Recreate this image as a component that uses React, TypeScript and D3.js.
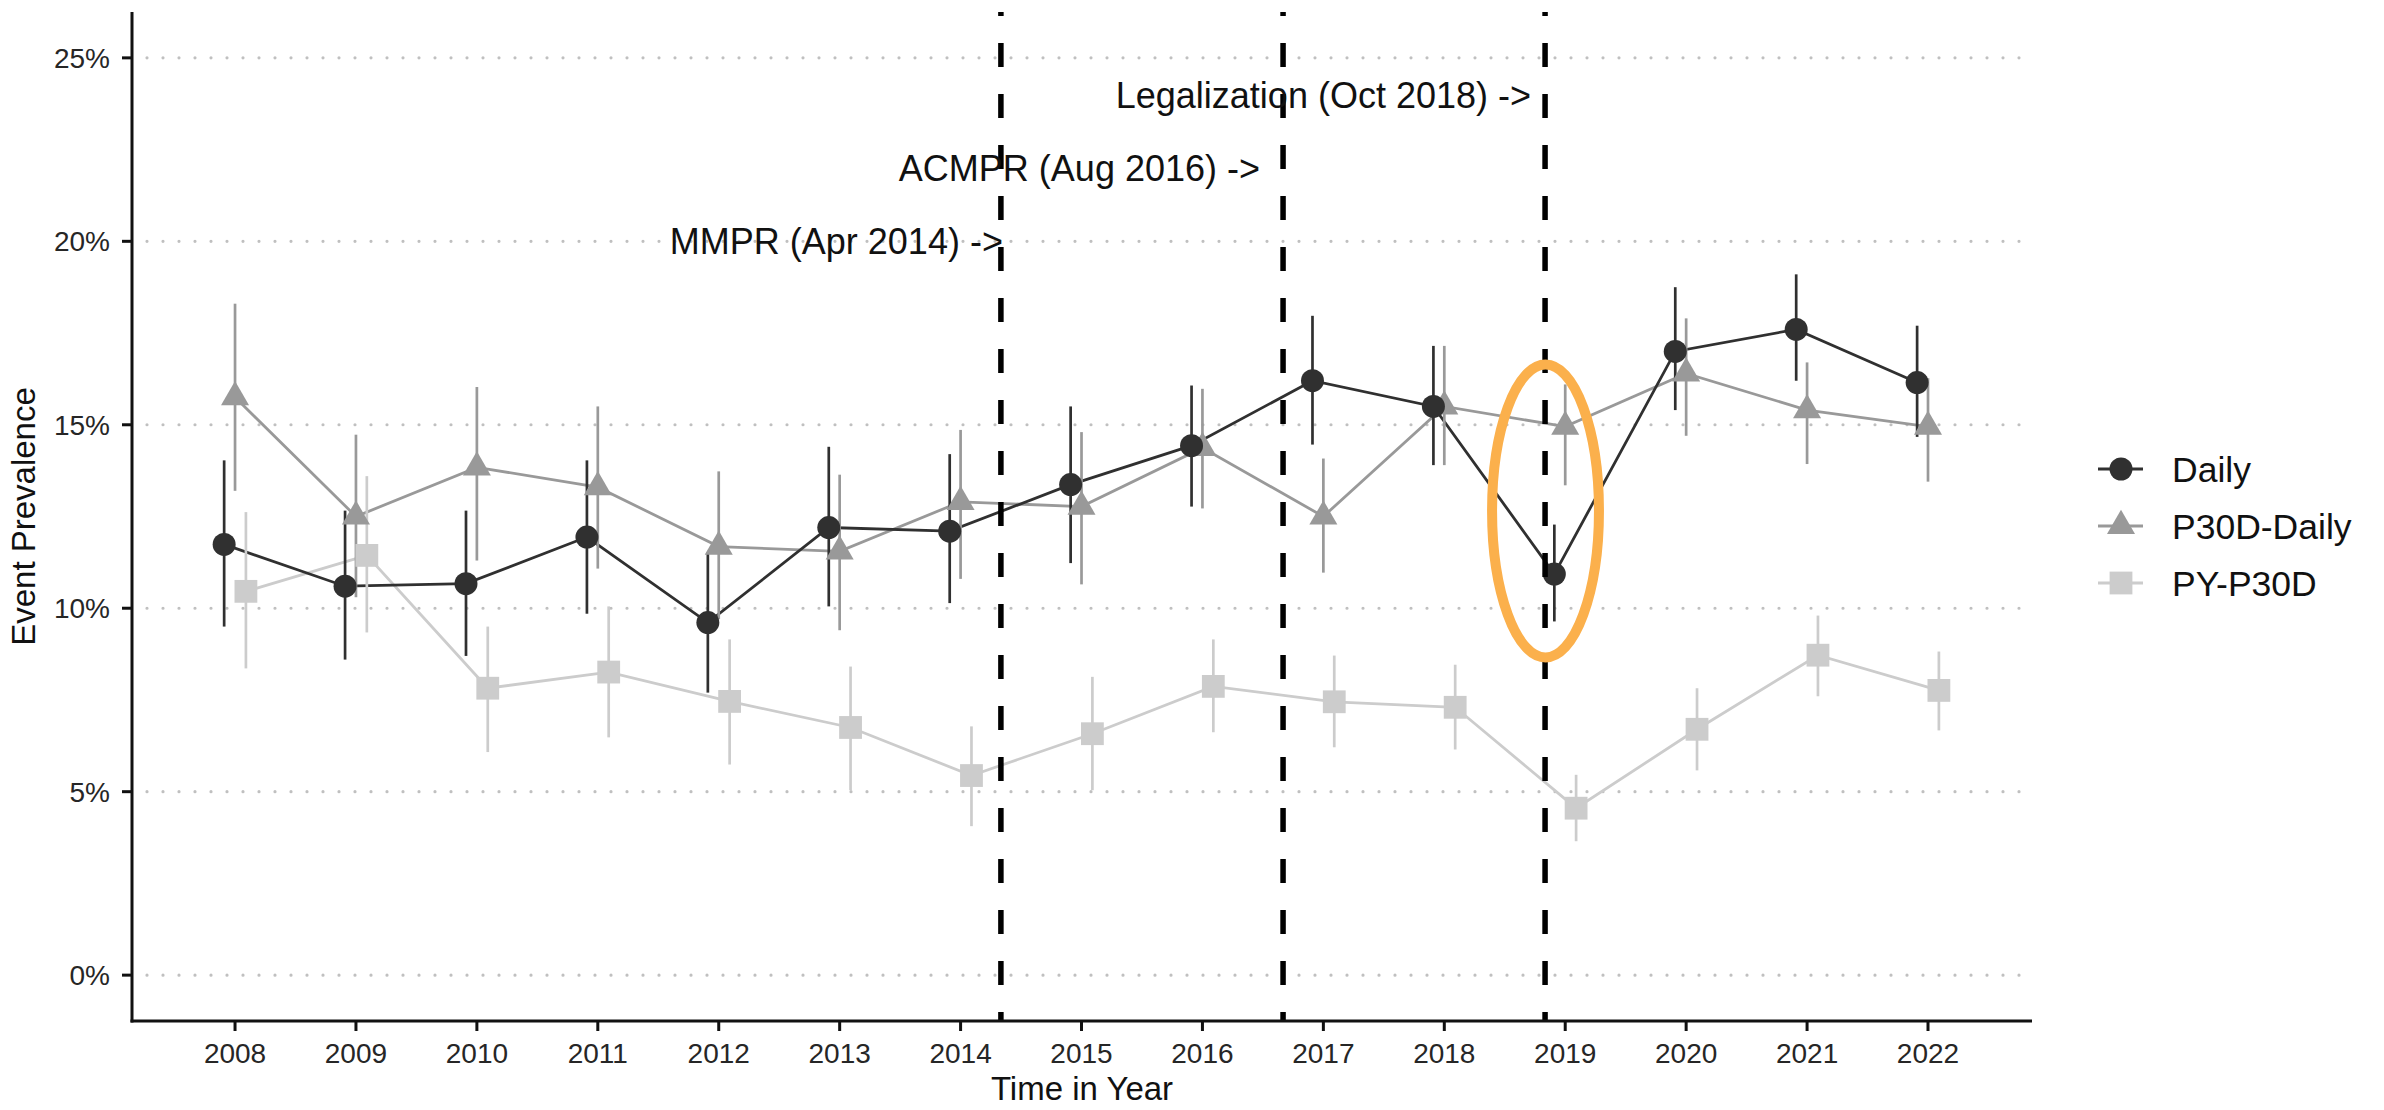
import React from "react";
import * as d3 from "d3";

const years = [2008, 2009, 2010, 2011, 2012, 2013, 2014, 2015, 2016, 2017, 2018, 2019, 2020, 2021, 2022];

const dailyEst = [11.74, 10.6, 10.67, 11.94, 9.61, 12.2, 12.1, 13.37, 14.43, 16.2, 15.5, 10.93, 17.0, 17.6, 16.15];
const dailyLo = [9.5, 8.6, 8.7, 9.85, 7.7, 10.05, 10.14, 11.23, 12.77, 14.46, 13.9, 9.64, 15.4, 16.2, 14.67];
const dailyHi = [14.03, 12.66, 12.66, 14.03, 11.52, 14.4, 14.2, 15.5, 16.07, 17.97, 17.15, 12.28, 18.75, 19.1, 17.7];

const p30Est = [15.75, 12.5, 13.84, 13.3, 11.68, 11.55, 12.9, 12.77, 14.37, 12.5, 15.5, 14.95, 16.4, 15.4, 14.95];
const p30Lo = [13.2, 10.3, 11.3, 11.08, 9.7, 9.4, 10.8, 10.65, 12.72, 10.97, 13.9, 13.35, 14.7, 13.93, 13.45];
const p30Hi = [18.3, 14.73, 16.03, 15.5, 13.73, 13.64, 14.86, 14.8, 15.98, 14.08, 17.15, 16.1, 17.9, 16.7, 16.27];

const pyEst = [10.46, 11.44, 7.82, 8.26, 7.46, 6.75, 5.44, 6.58, 7.87, 7.45, 7.3, 4.55, 6.7, 8.72, 7.76];
const pyLo = [8.36, 9.34, 6.08, 6.48, 5.74, 5.04, 4.06, 5.04, 6.62, 6.21, 6.15, 3.65, 5.58, 7.6, 6.67];
const pyHi = [12.62, 13.6, 9.5, 10.05, 9.15, 8.41, 6.78, 8.13, 9.15, 8.71, 8.46, 5.46, 7.82, 9.8, 8.82];

const yTicks = [0, 5, 10, 15, 20, 25];

const policyNames = ["MMPR (Apr 2014) ->", "ACMPR (Aug 2016) ->", "Legalization (Oct 2018) ->"];
const policyDates = [2014 + 4 / 12, 2016 + 8 / 12, 2018 + 10 / 12];
const policyLabelX = [2014.35, 2016.476, 2018.717];
const policyLabelY = [20, 22, 24];

const highlightCenter = [2018.837, 12.65];
const highlightRadius = [0.442, 3.99];

const seriesNames = ["Daily", "P30D-Daily", "PY-P30D"];
const seriesColors = ["#303030", "#999999", "#cccccc"];
const seriesShapes = [d3.symbolCircle, d3.symbolTriangle, d3.symbolSquare];
const seriesSizes = [415, 340, 520];
const seriesDodge = [-0.09, 0, 0.09];

const W = 2384;
const H = 1110;
const left = 132, right = 2032, top = 12, bottom = 1021;
const FONT = "'Liberation Sans', Arial, Helvetica, sans-serif";

export default function App() {
  const x = d3.scaleLinear().domain([2007.148, 2022.86]).range([left, right]);
  const y = d3.scaleLinear().domain([-1.25, 26.25]).range([bottom, top]);

  const series = [
    { est: dailyEst, lo: dailyLo, hi: dailyHi },
    { est: p30Est, lo: p30Lo, hi: p30Hi },
    { est: pyEst, lo: pyLo, hi: pyHi },
  ];

  const line = d3.line<[number, number]>().x((d) => d[0]).y((d) => d[1]);
  const order = [2, 1, 0];

  return (
    <svg width={W} height={H} style={{ position: "absolute", left: 0, top: 0, display: "block", background: "#fff" }} fontFamily={FONT}>
      <rect x={0} y={0} width={W} height={H} fill="#fff" />
      {/* grid */}
      {yTicks.map((t) => (
        <line key={"g" + t} x1={left + 15} x2={right} y1={y(t)} y2={y(t)} stroke="#c0c0c0" strokeWidth={3.2} strokeDasharray="0 16" strokeLinecap="round" />
      ))}
      {/* series lines */}
      {order.map((s) => (
        <path key={"l" + s} d={line(years.map((yr, i) => [x(yr + seriesDodge[s]), y(series[s].est[i])]))!} fill="none" stroke={seriesColors[s]} strokeWidth={2.8} />
      ))}
      {/* error bars */}
      {order.map((s) =>
        years.map((yr, i) => (
          <line key={"e" + s + "-" + i} x1={x(yr + seriesDodge[s])} x2={x(yr + seriesDodge[s])} y1={y(series[s].lo[i])} y2={y(series[s].hi[i])} stroke={seriesColors[s]} strokeWidth={2.7} />
        ))
      )}
      {/* points */}
      {order.map((s) =>
        years.map((yr, i) => (
          <path key={"p" + s + "-" + i} transform={`translate(${x(yr + seriesDodge[s])},${y(series[s].est[i])})`} d={d3.symbol(seriesShapes[s], seriesSizes[s])()!} fill={seriesColors[s]} />
        ))
      )}
      {/* policy lines */}
      {policyDates.map((d, i) => (
        <line key={"v" + i} x1={x(d)} x2={x(d)} y1={top} y2={bottom} stroke="#000" strokeWidth={5.5} strokeDasharray="24 27" strokeDashoffset={20} />
      ))}
      {policyNames.map((n, i) => (
        <text key={"t" + i} x={x(policyLabelX[i])} y={y(policyLabelY[i]) + 13} textAnchor="end" fontSize={36} fill="#111">
          {n}
        </text>
      ))}
      {/* highlight */}
      <ellipse cx={x(highlightCenter[0])} cy={y(highlightCenter[1])} rx={x(highlightCenter[0] + highlightRadius[0]) - x(highlightCenter[0])} ry={y(highlightCenter[1] - highlightRadius[1]) - y(highlightCenter[1])} fill="none" stroke="#fbb04c" strokeWidth={10} />
      {/* axes */}
      <line x1={left} x2={left} y1={top} y2={bottom + 1.5} stroke="#111" strokeWidth={3} />
      <line x1={left - 1.5} x2={right} y1={bottom} y2={bottom} stroke="#111" strokeWidth={3} />
      {yTicks.map((t) => (
        <g key={"yt" + t}>
          <line x1={left - 10} x2={left} y1={y(t)} y2={y(t)} stroke="#111" strokeWidth={3} />
          <text x={110} y={y(t) + 10} textAnchor="end" fontSize={28} fill="#262626">
            {t + "%"}
          </text>
        </g>
      ))}
      {years.map((yr) => (
        <g key={"xt" + yr}>
          <line x1={x(yr)} x2={x(yr)} y1={bottom} y2={bottom + 10} stroke="#111" strokeWidth={3} />
          <text x={x(yr)} y={1063} textAnchor="middle" fontSize={28} fill="#262626">
            {yr}
          </text>
        </g>
      ))}
      <text x={(left + right) / 2} y={1100} textAnchor="middle" fontSize={33} fill="#111">
        Time in Year
      </text>
      <text transform={`translate(35,${(top + bottom) / 2}) rotate(-90)`} textAnchor="middle" fontSize={33} fill="#111">
        Event Prevalence
      </text>
      {/* legend */}
      {seriesNames.map((n, i) => {
        const cy = 469 + i * 57;
        return (
          <g key={"lg" + i}>
            <line x1={2098} x2={2143} y1={cy} y2={cy} stroke={seriesColors[i]} strokeWidth={2.8} />
            <path transform={`translate(2121,${cy})`} d={d3.symbol(seriesShapes[i], seriesSizes[i])()!} fill={seriesColors[i]} />
            <text x={2172} y={cy + 12.5} fontSize={35.5} fill="#111">
              {n}
            </text>
          </g>
        );
      })}
    </svg>
  );
}
